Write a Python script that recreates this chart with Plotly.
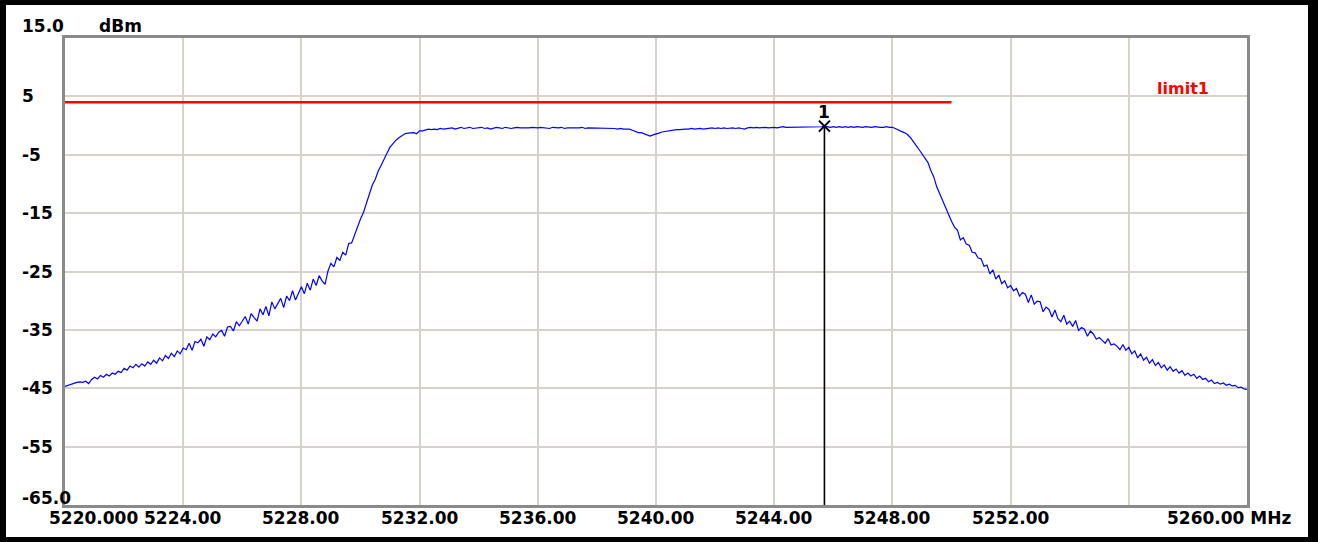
import numpy as np
import plotly.graph_objects as go

# Spectrum analyzer sweep, 5220-5260 MHz in 0.1 MHz steps (401 points)
f_start_mhz = 5220.0
f_step_mhz = 0.1

level_dbm = [
    -44.7, -44.5, -44.3, -44.1, -44.0, -43.9, -44.0, -43.8, -44.2, -43.5,  # 5220
    -43.1, -43.4, -42.8, -43.1, -42.6, -42.9, -42.4, -42.6, -42.1, -42.3,  # 5221
    -41.6, -41.9, -41.2, -41.5, -40.9, -41.4, -40.8, -41.2, -40.5, -40.9,  # 5222
    -40.2, -40.7, -39.8, -40.3, -39.4, -39.9, -39.0, -39.6, -38.6, -39.1,  # 5223
    -38.1, -38.4, -37.3, -38.5, -37.0, -37.2, -36.6, -37.8, -36.2, -36.7,  # 5224
    -35.7, -36.2, -35.4, -35.1, -36.1, -34.5, -34.4, -35.2, -33.6, -34.3,  # 5225
    -33.4, -32.7, -34.0, -32.2, -32.9, -33.5, -31.4, -32.4, -31.0, -32.6,  # 5226
    -30.2, -31.4, -30.5, -29.6, -31.2, -29.2, -30.0, -28.3, -29.9, -28.8,  # 5227
    -27.6, -28.8, -27.0, -28.2, -26.3, -27.4, -25.7, -26.6, -27.2, -24.9,  # 5228
    -23.6, -24.2, -22.6, -23.1, -21.7, -22.2, -20.2, -20.1, -18.7, -17.3,  # 5229
    -16.0, -14.9, -13.2, -11.9, -10.2, -9.2, -7.8, -6.8, -5.6, -4.7,       # 5230
    -3.7, -3.0, -2.5, -2.1, -1.7, -1.4, -1.3, -1.2, -1.2, -1.4,            # 5231
    -0.9, -0.9, -0.7, -0.6, -0.7, -0.6, -0.7, -0.5, -0.6, -0.5,            # 5232
    -0.5, -0.4, -0.6, -0.4, -0.3, -0.5, -0.4, -0.3, -0.5, -0.4,            # 5233
    -0.4, -0.3, -0.5, -0.4, -0.6, -0.4, -0.3, -0.4, -0.5, -0.3,            # 5234
    -0.4, -0.5, -0.4, -0.3, -0.4, -0.4, -0.5, -0.4, -0.3, -0.4,            # 5235
    -0.4, -0.3, -0.4, -0.4, -0.5, -0.3, -0.4, -0.4, -0.3, -0.5,            # 5236
    -0.4, -0.4, -0.5, -0.4, -0.4, -0.3, -0.5, -0.4, -0.4, -0.5,            # 5237
    -0.5, -0.4, -0.5, -0.5, -0.4, -0.5, -0.5, -0.6, -0.5, -0.6,            # 5238
    -0.6, -0.6, -0.8, -1.0, -1.2, -1.2, -1.4, -1.6, -1.8, -1.6,            # 5239
    -1.5, -1.3, -1.1, -1.0, -0.9, -0.8, -0.8, -0.7, -0.7, -0.6,            # 5240
    -0.6, -0.6, -0.5, -0.6, -0.5, -0.5, -0.6, -0.5, -0.5, -0.4,            # 5241
    -0.5, -0.4, -0.5, -0.4, -0.5, -0.4, -0.4, -0.5, -0.4, -0.5,            # 5242
    -0.6, -0.4, -0.3, -0.4, -0.3, -0.4, -0.3, -0.3, -0.4, -0.3,            # 5243
    -0.3, -0.4, -0.3, -0.2, -0.3, -0.3, -0.2, -0.3, -0.3, -0.2,            # 5244
    -0.3, -0.2, -0.3, -0.2, -0.3, -0.2, -0.2, -0.1, -0.2, -0.3,            # 5245
    -0.2, -0.3, -0.2, -0.3, -0.2, -0.3, -0.2, -0.3, -0.2, -0.3,            # 5246
    -0.3, -0.2, -0.3, -0.3, -0.2, -0.3, -0.3, -0.3, -0.2, -0.3,            # 5247
    -0.3, -0.5, -0.8, -1.0, -1.2, -1.5, -2.0, -2.6, -3.4, -4.1,            # 5248
    -4.8, -5.7, -6.3, -7.7, -8.8, -10.5, -11.7, -13.0, -14.1, -15.5,       # 5249
    -16.4, -17.4, -17.9, -19.6, -19.2, -20.3, -20.5, -21.7, -21.8, -22.7,  # 5250
    -22.8, -24.1, -23.9, -25.4, -24.7, -26.3, -25.6, -27.1, -26.6, -27.8,  # 5251
    -27.4, -28.3, -27.9, -29.2, -28.6, -28.9, -30.3, -29.0, -30.6, -30.1,  # 5252
    -30.2, -31.9, -31.1, -31.5, -32.8, -31.6, -33.1, -33.6, -32.5, -34.0,  # 5253
    -33.5, -34.4, -33.4, -35.1, -34.6, -34.9, -36.1, -35.2, -35.7, -36.6,  # 5254
    -36.3, -36.8, -37.3, -36.5, -37.6, -37.4, -37.8, -38.4, -37.5, -38.5,  # 5255
    -38.0, -39.1, -38.6, -39.8, -39.1, -40.2, -39.7, -40.7, -40.1, -41.1,  # 5256
    -40.6, -41.5, -41.0, -41.9, -41.3, -42.1, -41.7, -42.4, -42.0, -42.8,  # 5257
    -42.4, -42.9, -42.6, -43.3, -42.9, -43.5, -43.3, -43.9, -43.6, -44.2,  # 5258
    -44.0, -44.3, -44.1, -44.5, -44.3, -44.6, -44.5, -44.9, -44.8, -45.1,  # 5259
    -45.2,                                                                  # 5260
]
freq_mhz = np.round(f_start_mhz + f_step_mhz * np.arange(len(level_dbm)), 1)

# Limit line
limit_name = "limit1"
limit_freq_mhz = [5220.0, 5250.0]
limit_level_dbm = [4.0, 4.0]

# Marker 1
marker_name = "1"
marker_freq_mhz = 5245.7

# Axes
x_range = [5220.0, 5260.0]
y_range = [-65.0, 15.0]
x_grid = [5224, 5228, 5232, 5236, 5240, 5244, 5248, 5252, 5256]
x_tick_vals = [5224, 5228, 5232, 5236, 5240, 5244, 5248, 5252]
x_tick_text = ["5224.00", "5228.00", "5232.00", "5236.00",
               "5240.00", "5244.00", "5248.00", "5252.00"]
x_first_text = "5220.000"
x_last_text = "5260.00 MHz"
y_tick_vals = [5, -5, -15, -25, -35, -45, -55]
y_tick_text = ["5", "-5", "-15", "-25", "-35", "-45", "-55"]
y_top_text = "15.0"
y_bottom_text = "-65.0"
y_unit_text = "dBm"

# Page geometry (pixels)
W, H = 1318, 542
PL, PR, PT, PB = 65, 1247, 38, 505
PW, PH = PR - PL, PB - PT


def px(xp):
    return (xp - PL) / PW


def py(yp):
    return (PB - yp) / PH


LABEL_FONT = dict(family="DejaVu Sans", size=17, color="black", weight="bold")
GRID = "#d6d2ca"

marker_level = level_dbm[int(np.argmin(np.abs(freq_mhz - marker_freq_mhz)))]

fig = go.Figure()

fig.add_trace(go.Scatter(
    x=freq_mhz, y=level_dbm, mode="lines",
    line=dict(color="#0000ff", width=1.2),
    hoverinfo="skip", showlegend=False,
))

fig.add_trace(go.Scatter(
    x=limit_freq_mhz, y=limit_level_dbm, mode="lines",
    line=dict(color="#ff0000", width=2.5),
    hoverinfo="skip", showlegend=False,
))

# Marker drop line and cross
fig.add_trace(go.Scatter(
    x=[marker_freq_mhz, marker_freq_mhz], y=[marker_level, y_range[0]],
    mode="lines", line=dict(color="black", width=1.6),
    hoverinfo="skip", showlegend=False,
))
fig.add_trace(go.Scatter(
    x=[marker_freq_mhz], y=[marker_level], mode="markers",
    marker=dict(symbol="x-thin", size=11, line=dict(color="black", width=2)),
    hoverinfo="skip", showlegend=False,
))

annotations = []
# y labels, left aligned
for v, t in zip(y_tick_vals, y_tick_text):
    annotations.append(dict(x=px(20), xref="paper", y=v, yref="y", text=t,
                            xanchor="left", yanchor="middle", showarrow=False,
                            font=LABEL_FONT))
annotations.append(dict(x=px(20), xref="paper", y=py(26), yref="paper", text=y_top_text,
                        xanchor="left", yanchor="middle", showarrow=False, font=LABEL_FONT))
annotations.append(dict(x=px(97), xref="paper", y=py(26), yref="paper", text=y_unit_text,
                        xanchor="left", yanchor="middle", showarrow=False, font=LABEL_FONT))
annotations.append(dict(x=px(20), xref="paper", y=py(498), yref="paper", text=y_bottom_text,
                        xanchor="left", yanchor="middle", showarrow=False, font=LABEL_FONT))
# x labels
for v, t in zip(x_tick_vals, x_tick_text):
    annotations.append(dict(x=v, xref="x", y=py(518), yref="paper", text=t,
                            xanchor="center", yanchor="middle", showarrow=False,
                            font=LABEL_FONT))
annotations.append(dict(x=px(47), xref="paper", y=py(518), yref="paper", text=x_first_text,
                        xanchor="left", yanchor="middle", showarrow=False, font=LABEL_FONT))
annotations.append(dict(x=px(1293), xref="paper", y=py(518), yref="paper", text=x_last_text,
                        xanchor="right", yanchor="middle", showarrow=False, font=LABEL_FONT))
# limit name
annotations.append(dict(x=px(1183), xref="paper", y=py(88), yref="paper", text=limit_name,
                        xanchor="center", yanchor="middle", showarrow=False,
                        font=dict(family="DejaVu Sans", size=16, color="#ff0000", weight="bold")))
# marker number
annotations.append(dict(x=marker_freq_mhz, xref="x", y=marker_level, yref="y",
                        text=marker_name, xanchor="center", yanchor="middle",
                        yshift=14, showarrow=False, font=LABEL_FONT))

shapes = [
    # white panel inside the black outer frame
    dict(type="rect", xref="paper", yref="paper", layer="below",
         x0=px(6), x1=px(1308), y0=py(537), y1=py(5),
         fillcolor="white", line=dict(width=0)),
]

fig.update_layout(
    width=W, height=H,
    margin=dict(l=PL, r=W - PR, t=PT, b=H - PB, pad=0),
    paper_bgcolor="black",
    plot_bgcolor="white",
    showlegend=False,
    annotations=annotations,
    shapes=shapes,
    xaxis=dict(range=x_range, tickvals=x_grid, showticklabels=False,
               showgrid=True, gridcolor=GRID, gridwidth=2, zeroline=False,
               showline=True, linecolor="#8a8a8a", linewidth=3, mirror=True,
               ticks=""),
    yaxis=dict(range=y_range, tickvals=y_tick_vals, showticklabels=False,
               showgrid=True, gridcolor=GRID, gridwidth=2, zeroline=False,
               showline=True, linecolor="#8a8a8a", linewidth=3, mirror=True,
               ticks=""),
)

fig.write_html("out.html")
